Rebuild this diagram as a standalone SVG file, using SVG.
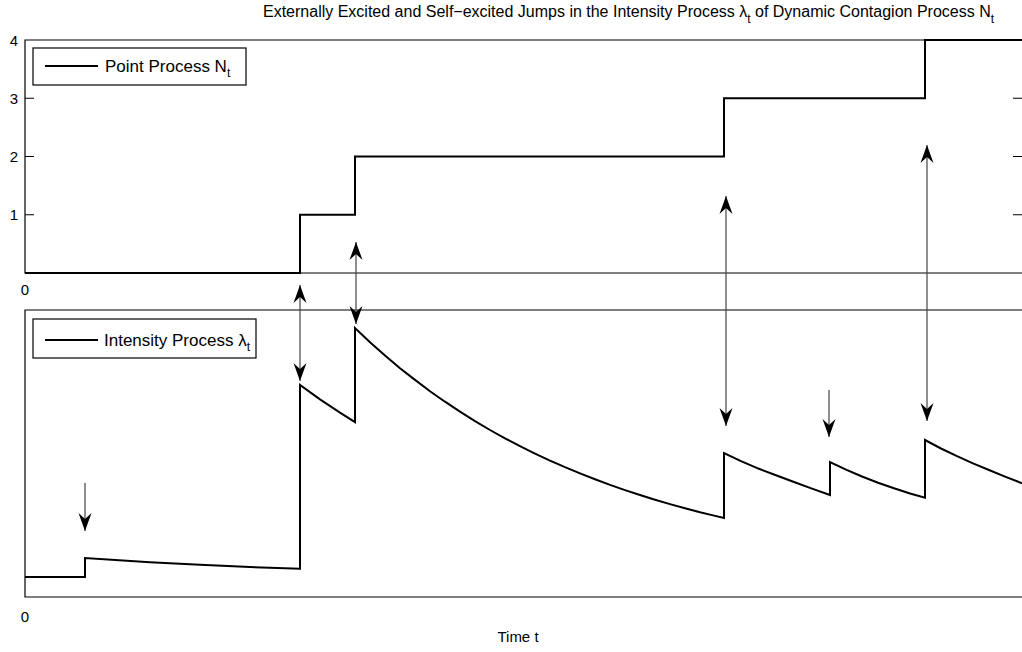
<svg xmlns="http://www.w3.org/2000/svg" width="1022" height="652" viewBox="0 0 1022 652">
<style>
  text { font-family: "Liberation Sans", Arial, sans-serif; fill: #000; }
  .title { font-size: 16px; }
  .tick { font-size: 15px; }
  .leg { font-size: 17px; }
  .sub { font-size: 12px; }
  .axis { fill: none; stroke: #000; stroke-width: 1.2; }
  .curve { fill: none; stroke: #000; stroke-width: 2; stroke-linejoin: miter; }
  .legbox { fill: #fff; stroke: #000; stroke-width: 1.2; }
  .arrow { fill: none; stroke: #444; stroke-width: 1.2; }
</style>
<defs>
  <marker id="head" viewBox="-19 -8 21 16" refX="0" refY="0" markerWidth="21" markerHeight="16" markerUnits="userSpaceOnUse" orient="auto-start-reverse">
    <path d="M0,0 L-18,-6.5 L-12,0 L-18,6.5 Z" fill="#000"/>
  </marker>
</defs>
<rect width="1022" height="652" fill="#fff"/>

<g id="title">
  <text class="title" x="263" y="17">Externally Excited and Self−excited Jumps in the Intensity Process λ<tspan class="sub" dy="6">t</tspan><tspan dy="-6"> of Dynamic Contagion Process N</tspan><tspan class="sub" dy="6">t</tspan></text>
</g>

<g id="axes-top">
  <path class="axis" d="M1030,40 H25 V273 H1030"/>
  <path class="axis" d="M25,98.25 H34 M25,156.5 H34 M25,214.75 H34 M1013,98.25 H1022 M1013,156.5 H1022 M1013,214.75 H1022"/>
  <text class="tick" x="18" y="45.5" text-anchor="end">4</text>
  <text class="tick" x="18" y="103.5" text-anchor="end">3</text>
  <text class="tick" x="18" y="162" text-anchor="end">2</text>
  <text class="tick" x="18" y="220" text-anchor="end">1</text>
  <text class="tick" x="25" y="295" text-anchor="middle">0</text>
</g>

<g id="axes-bottom">
  <path class="axis" d="M1030,310 H25 V597 H1030"/>
  <text class="tick" x="25" y="622" text-anchor="middle">0</text>
  <text class="tick" x="518" y="642" text-anchor="middle">Time t</text>
</g>

<g id="point-process">
  <path class="curve" d="M25,273 H300 V214.75 H355 V156.5 H724 V98.25 H925 V40 H1022"/>
</g>

<g id="intensity-process">
  <path class="curve" d="M25,577 H85 V558 L150,562.25 L200,564.87 L250,567 L300,568.8 V385 L320,399.4 L340,412.7 L355,422.1 V328 L370,342.3 L385,355.5 L400,368.2 L415,379.9 L430,391.2 L445,401.7 L460,411.7 L475,421.1 L490,430 L505,438.3 L520,446.2 L535,453.6 L550,460.6 L565,467.2 L580,473.4 L595,479.3 L610,484.9 L625,490.1 L640,495 L655,499.7 L670,504.1 L685,508.2 L700,512.2 L712,515.1 L724,518 V453 L741,461.2 L759,468.8 L776,475.3 L794,482 L812,488.6 L830,495 V462 L846,469.6 L862,476.5 L878,482.7 L894,488.3 L910,493.5 L925,497.6 V440 L941,448.5 L957,456.2 L973,463.4 L989,470 L1005,476.6 L1022,483.2"/>
</g>

<g id="legend-top">
  <rect class="legbox" x="33" y="48" width="213" height="37"/>
  <line x1="45" y1="66" x2="98" y2="66" stroke="#000" stroke-width="2"/>
  <text class="leg" x="105" y="72">Point Process N<tspan class="sub" dy="5">t</tspan></text>
</g>

<g id="legend-bottom">
  <rect class="legbox" x="33" y="319" width="223" height="39"/>
  <line x1="45" y1="340" x2="98" y2="340" stroke="#000" stroke-width="2"/>
  <text class="leg" x="104" y="346">Intensity Process λ<tspan class="sub" dy="5">t</tspan></text>
</g>

<g id="connectors">
  <line class="arrow" x1="85" y1="483" x2="85" y2="531" marker-end="url(#head)"/>
  <line class="arrow" x1="300" y1="285" x2="300" y2="381" marker-start="url(#head)" marker-end="url(#head)"/>
  <line class="arrow" x1="356" y1="242" x2="356" y2="324" marker-start="url(#head)" marker-end="url(#head)"/>
  <line class="arrow" x1="726" y1="196" x2="726" y2="426" marker-start="url(#head)" marker-end="url(#head)"/>
  <line class="arrow" x1="829" y1="390" x2="829" y2="437" marker-end="url(#head)"/>
  <line class="arrow" x1="927" y1="145" x2="927" y2="421" marker-start="url(#head)" marker-end="url(#head)"/>
</g>
</svg>
